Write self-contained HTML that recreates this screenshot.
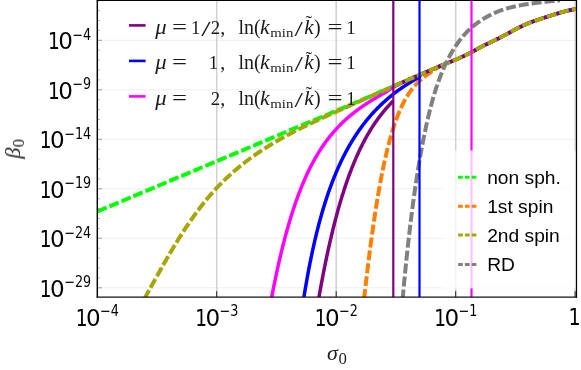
<!DOCTYPE html>
<html><head><meta charset="utf-8"><title>plot</title><style>html,body{margin:0;padding:0;background:#fff}svg{display:block}</style></head><body>
<svg width="581" height="370" viewBox="0 0 581 370">
<rect width="581" height="370" fill="#fff"/>
<g opacity="0.999">
<defs><clipPath id="c"><rect x="97.5" y="0.5" width="478.5" height="296.5"/></clipPath></defs>
<line x1="97.5" x2="576.0" y1="40.30" y2="40.30" stroke="#efefef" stroke-width="1"/>
<line x1="97.5" x2="576.0" y1="89.80" y2="89.80" stroke="#efefef" stroke-width="1"/>
<line x1="97.5" x2="576.0" y1="139.30" y2="139.30" stroke="#efefef" stroke-width="1"/>
<line x1="97.5" x2="576.0" y1="188.80" y2="188.80" stroke="#efefef" stroke-width="1"/>
<line x1="97.5" x2="576.0" y1="238.30" y2="238.30" stroke="#efefef" stroke-width="1"/>
<line x1="97.5" x2="576.0" y1="287.80" y2="287.80" stroke="#efefef" stroke-width="1"/>
<line x1="216.70" x2="216.70" y1="0.5" y2="297.0" stroke="#d0d0d0" stroke-width="1.5"/>
<line x1="336.20" x2="336.20" y1="0.5" y2="297.0" stroke="#d0d0d0" stroke-width="1.5"/>
<line x1="455.70" x2="455.70" y1="0.5" y2="297.0" stroke="#d0d0d0" stroke-width="1.5"/>
<line x1="575.20" x2="575.20" y1="0.5" y2="297.0" stroke="#d0d0d0" stroke-width="1.5"/>
<g clip-path="url(#c)" fill="none" stroke-linejoin="round">
<path d="M97.50 211.50 L99.91 210.48 L102.31 209.46 L104.72 208.44 L107.13 207.42 L109.53 206.40 L111.94 205.38 L114.35 204.36 L116.75 203.34 L119.16 202.32 L121.57 201.30 L123.97 200.28 L126.38 199.27 L128.79 198.25 L131.19 197.23 L133.60 196.21 L136.01 195.19 L138.42 194.18 L140.82 193.16 L143.23 192.14 L145.64 191.12 L148.05 190.11 L150.46 189.09 L152.86 188.07 L155.27 187.06 L157.68 186.04 L160.09 185.02 L162.50 184.01 L164.90 182.99 L167.31 181.97 L169.72 180.96 L172.13 179.94 L174.54 178.93 L176.95 177.91 L179.35 176.90 L181.76 175.88 L184.17 174.87 L186.58 173.85 L188.99 172.84 L191.40 171.82 L193.81 170.81 L196.22 169.79 L198.62 168.78 L201.03 167.77 L203.44 166.75 L205.85 165.74 L208.26 164.73 L210.67 163.71 L213.08 162.70 L215.49 161.69 L217.90 160.68 L220.31 159.67 L222.72 158.66 L225.13 157.65 L227.54 156.64 L229.95 155.62 L232.36 154.61 L234.77 153.60 L237.18 152.59 L239.59 151.57 L242.00 150.56 L244.41 149.54 L246.82 148.53 L249.22 147.51 L251.63 146.49 L254.04 145.48 L256.45 144.46 L258.85 143.44 L261.26 142.42 L263.67 141.40 L266.08 140.39 L268.48 139.37 L270.89 138.35 L273.30 137.33 L275.71 136.31 L278.11 135.30 L280.52 134.28 L282.93 133.26 L285.34 132.25 L287.75 131.23 L290.15 130.21 L292.56 129.20 L294.97 128.18 L297.38 127.17 L299.79 126.16 L302.20 125.14 L304.61 124.13 L307.02 123.11 L309.42 122.10 L311.83 121.08 L314.24 120.07 L316.65 119.06 L319.06 118.04 L321.47 117.03 L323.88 116.01 L326.29 114.99 L328.69 113.98 L331.10 112.96 L333.51 111.95 L335.92 110.93 L338.32 109.91 L340.73 108.89 L343.14 107.87 L345.54 106.85 L347.95 105.83 L350.36 104.81 L352.76 103.78 L355.17 102.76 L357.57 101.74 L359.97 100.71 L362.38 99.68 L364.78 98.66 L367.18 97.63 L369.59 96.59 L371.99 95.56 L374.39 94.53 L376.79 93.49 L379.19 92.45 L381.58 91.41 L383.98 90.37 L386.37 89.32 L388.77 88.27 L391.16 87.22 L393.56 86.18 L395.95 85.13 L398.35 84.09 L400.74 83.04 L403.14 82.00 L405.54 80.95 L407.93 79.91 L410.33 78.87 L412.73 77.83 L415.13 76.79 L417.53 75.75 L419.93 74.72" stroke="#00ff00" stroke-width="4" stroke-dasharray="10 3"/>
<path d="M364.09 299.03 L364.16 298.39 L364.23 297.75 L364.30 297.11 L364.37 296.47 L364.45 295.83 L364.52 295.20 L364.59 294.56 L364.66 293.92 L364.73 293.28 L364.81 292.64 L364.88 292.00 L364.95 291.36 L365.02 290.73 L365.10 290.09 L365.17 289.45 L365.24 288.81 L365.31 288.17 L365.39 287.53 L365.46 286.90 L365.53 286.26 L365.61 285.62 L365.68 284.98 L365.75 284.34 L365.83 283.70 L365.90 283.07 L365.98 282.43 L366.05 281.79 L366.13 281.15 L366.20 280.51 L366.28 279.87 L366.35 279.24 L366.43 278.60 L366.50 277.96 L366.58 277.32 L366.65 276.68 L366.73 276.04 L366.80 275.41 L366.88 274.77 L366.96 274.13 L367.03 273.49 L367.11 272.85 L367.19 272.22 L367.26 271.58 L367.34 270.94 L367.42 270.30 L367.49 269.66 L367.57 269.03 L367.65 268.39 L367.73 267.75 L367.80 267.11 L367.88 266.48 L367.96 265.84 L368.04 265.20 L368.12 264.56 L368.20 263.92 L368.28 263.29 L368.35 262.65 L368.43 262.01 L368.51 261.37 L368.59 260.74 L368.67 260.10 L368.75 259.46 L368.83 258.82 L368.91 258.19 L368.99 257.55 L369.08 256.91 L369.16 256.27 L369.24 255.64 L369.32 255.00 L369.40 254.36 L369.48 253.72 L369.56 253.09 L369.65 252.45 L369.73 251.81 L369.81 251.17 L369.89 250.54 L369.98 249.90 L370.06 249.26 L370.14 248.63 L370.23 247.99 L370.31 247.35 L370.39 246.71 L370.48 246.08 L370.56 245.44 L370.65 244.80 L370.73 244.17 L370.82 243.53 L370.90 242.89 L370.99 242.26 L371.07 241.62 L371.16 240.98 L371.25 240.34 L371.33 239.71 L371.42 239.07 L371.51 238.43 L371.59 237.80 L371.68 237.16 L371.77 236.52 L371.85 235.89 L371.94 235.25 L372.03 234.61 L372.12 233.98 L372.21 233.34 L372.30 232.71 L372.39 232.07 L372.48 231.43 L372.57 230.80 L372.66 230.16 L372.75 229.52 L372.84 228.89 L372.93 228.25 L373.02 227.62 L373.11 226.98 L373.20 226.34 L373.29 225.71 L373.38 225.07 L373.48 224.44 L373.57 223.80 L373.66 223.16 L373.76 222.53 L373.85 221.89 L373.94 221.26 L374.04 220.62 L374.13 219.99 L374.23 219.35 L374.32 218.71 L374.42 218.08 L374.51 217.44 L374.61 216.81 L374.70 216.17 L374.80 215.54 L374.90 214.90 L374.99 214.27 L375.09 213.63 L375.19 213.00 L375.29 212.36 L375.38 211.73 L375.48 211.09 L375.58 210.46 L375.68 209.82 L375.78 209.19 L375.88 208.55 L375.98 207.92 L376.08 207.28 L376.18 206.65 L376.28 206.01 L376.38 205.38 L376.49 204.74 L376.59 204.11 L376.69 203.48 L376.80 202.84 L376.90 202.21 L377.00 201.57 L377.11 200.94 L377.21 200.30 L377.32 199.67 L377.42 199.04 L377.53 198.40 L377.63 197.77 L377.74 197.14 L377.85 196.50 L377.95 195.87 L378.06 195.23 L378.17 194.60 L378.28 193.97 L378.39 193.33 L378.50 192.70 L378.61 192.07 L378.72 191.44 L378.83 190.80 L378.94 190.17 L379.05 189.54 L379.16 188.90 L379.27 188.27 L379.39 187.64 L379.50 187.01 L379.62 186.37 L379.73 185.74 L379.84 185.11 L379.96 184.48 L380.08 183.84 L380.19 183.21 L380.31 182.58 L380.43 181.95 L380.54 181.32 L380.66 180.69 L380.78 180.05 L380.90 179.42 L381.02 178.79 L381.14 178.16 L381.26 177.53 L381.38 176.90 L381.50 176.27 L381.63 175.64 L381.75 175.01 L381.87 174.38 L382.00 173.74 L382.12 173.11 L382.25 172.48 L382.38 171.85 L382.50 171.22 L382.63 170.59 L382.76 169.96 L382.89 169.33 L383.02 168.71 L383.14 168.08 L383.28 167.45 L383.41 166.82 L383.54 166.19 L383.67 165.56 L383.80 164.93 L383.94 164.30 L384.07 163.67 L384.21 163.05 L384.34 162.42 L384.48 161.79 L384.62 161.16 L384.76 160.53 L384.89 159.91 L385.03 159.28 L385.17 158.65 L385.32 158.03 L385.46 157.40 L385.60 156.77 L385.74 156.15 L385.89 155.52 L386.03 154.89 L386.18 154.27 L386.33 153.64 L386.47 153.02 L386.62 152.39 L386.77 151.77 L386.92 151.14 L387.07 150.52 L387.23 149.89 L387.38 149.27 L387.53 148.65 L387.69 148.02 L387.85 147.40 L388.00 146.78 L388.16 146.15 L388.32 145.53 L388.48 144.91 L388.64 144.29 L388.80 143.66 L388.97 143.04 L389.13 142.42 L389.30 141.80 L389.46 141.18 L389.63 140.56 L389.80 139.94 L389.97 139.32 L390.14 138.70 L390.31 138.08 L390.49 137.46 L390.66 136.85 L390.84 136.23 L391.02 135.61 L391.19 134.99 L391.37 134.38 L391.56 133.76 L391.74 133.14 L391.92 132.53 L392.11 131.91 L392.30 131.30 L392.48 130.68 L392.68 130.07 L392.87 129.46 L393.06 128.84 L393.25 128.23 L393.45 127.62 L393.65 127.01 L393.85 126.40 L394.05 125.79 L394.25 125.18 L394.46 124.57 L394.66 123.96 L394.87 123.35 L395.08 122.74 L395.29 122.14 L395.51 121.53 L395.72 120.93 L395.94 120.32 L396.16 119.72 L396.38 119.11 L396.60 118.51 L396.83 117.91 L397.06 117.31 L397.29 116.71 L397.52 116.11 L397.75 115.51 L397.99 114.91 L398.23 114.32 L398.47 113.72 L398.71 113.13 L398.96 112.53 L399.21 111.94 L399.46 111.35 L399.71 110.76 L399.97 110.17 L400.22 109.58 L400.49 108.99 L400.75 108.41 L401.02 107.82 L401.29 107.24 L401.56 106.66 L401.83 106.08 L402.11 105.50 L402.39 104.92 L402.68 104.34 L402.96 103.77 L403.26 103.19 L403.55 102.62 L403.85 102.05 L404.15 101.49 L404.45 100.92 L404.76 100.36 L405.07 99.79 L405.38 99.23 L405.70 98.67 L406.02 98.12 L406.35 97.56 L406.68 97.01 L407.01 96.46 L407.35 95.92 L407.69 95.37 L408.03 94.83 L408.38 94.29 L408.74 93.75 L409.09 93.22 L409.46 92.69 L409.82 92.16 L410.19 91.63 L410.56 91.11 L410.94 90.59 L411.33 90.07 L411.71 89.56 L412.10 89.05 L412.50 88.55 L412.90 88.04 L413.31 87.54 L413.72 87.05 L414.13 86.56 L414.55 86.07 L414.97 85.59 L415.40 85.11 L415.83 84.63 L416.27 84.16 L416.71 83.69 L417.15 83.23 L417.60 82.77 L418.06 82.31 L418.51 81.86 L418.98 81.42 L419.44 80.98 L419.92 80.54 L420.39 80.11 L420.87 79.68 L421.35 79.26 L421.84 78.84 L422.33 78.42 L422.83 78.01 L423.32 77.61 L423.83 77.20 L424.33 76.81 L424.84 76.42 L425.35 76.03 L425.87 75.64 L426.39 75.26 L426.91 74.89 L427.43 74.52 L427.96 74.15 L428.49 73.79 L429.02 73.43 L429.56 73.07 L430.10 72.72 L430.64 72.38 L431.18 72.03 L431.73 71.69 L432.27 71.31 L432.82 70.88 L433.38 70.47 L433.93 70.07 L434.48 69.69 L435.04 69.31 L435.60 68.94 L436.16 68.58 L436.72 68.23 L437.29 67.89 L437.85 67.56 L438.42 67.23 L438.99 66.91 L439.56 66.60 L440.13 66.29 L440.70 65.99 L441.27 65.70 L441.85 65.41 L442.42 65.12 L443.00 64.84" stroke="#ff8000" stroke-width="4" stroke-dasharray="10 3"/>
<path d="M271.30 299.39 L271.42 298.73 L271.55 298.07 L271.67 297.41 L271.80 296.75 L271.92 296.09 L272.05 295.43 L272.18 294.77 L272.30 294.11 L272.43 293.45 L272.56 292.79 L272.69 292.13 L272.81 291.47 L272.94 290.81 L273.07 290.15 L273.20 289.49 L273.33 288.83 L273.46 288.17 L273.59 287.51 L273.72 286.85 L273.85 286.19 L273.99 285.53 L274.12 284.87 L274.25 284.22 L274.39 283.56 L274.52 282.90 L274.65 282.24 L274.79 281.58 L274.92 280.92 L275.06 280.27 L275.19 279.61 L275.33 278.95 L275.47 278.29 L275.60 277.63 L275.74 276.98 L275.88 276.32 L276.02 275.66 L276.16 275.00 L276.30 274.35 L276.44 273.69 L276.58 273.03 L276.72 272.37 L276.86 271.72 L277.00 271.06 L277.15 270.40 L277.29 269.75 L277.43 269.09 L277.58 268.43 L277.72 267.78 L277.87 267.12 L278.01 266.47 L278.16 265.81 L278.30 265.15 L278.45 264.50 L278.60 263.84 L278.75 263.19 L278.89 262.53 L279.04 261.88 L279.19 261.22 L279.34 260.57 L279.49 259.91 L279.65 259.26 L279.80 258.60 L279.95 257.95 L280.10 257.29 L280.26 256.64 L280.41 255.99 L280.57 255.33 L280.72 254.68 L280.88 254.02 L281.03 253.37 L281.19 252.72 L281.35 252.06 L281.51 251.41 L281.67 250.76 L281.83 250.10 L281.99 249.45 L282.15 248.80 L282.31 248.15 L282.47 247.50 L282.63 246.84 L282.80 246.19 L282.96 245.54 L283.12 244.89 L283.29 244.24 L283.46 243.59 L283.62 242.93 L283.79 242.28 L283.96 241.63 L284.13 240.98 L284.29 240.33 L284.46 239.68 L284.64 239.03 L284.81 238.38 L284.98 237.73 L285.15 237.08 L285.32 236.43 L285.50 235.78 L285.67 235.14 L285.85 234.49 L286.03 233.84 L286.20 233.19 L286.38 232.54 L286.56 231.89 L286.74 231.25 L286.92 230.60 L287.10 229.95 L287.28 229.31 L287.46 228.66 L287.65 228.01 L287.83 227.37 L288.02 226.72 L288.20 226.07 L288.39 225.43 L288.58 224.78 L288.76 224.14 L288.95 223.49 L289.14 222.85 L289.33 222.20 L289.53 221.56 L289.72 220.92 L289.91 220.27 L290.11 219.63 L290.30 218.99 L290.50 218.34 L290.69 217.70 L290.89 217.06 L291.09 216.42 L291.29 215.78 L291.49 215.13 L291.69 214.49 L291.89 213.85 L292.10 213.21 L292.30 212.57 L292.51 211.93 L292.71 211.29 L292.92 210.65 L293.13 210.01 L293.34 209.38 L293.55 208.74 L293.76 208.10 L293.97 207.46 L294.19 206.82 L294.40 206.19 L294.62 205.55 L294.83 204.91 L295.05 204.28 L295.27 203.64 L295.49 203.01 L295.71 202.37 L295.93 201.74 L296.15 201.11 L296.38 200.47 L296.60 199.84 L296.83 199.21 L297.06 198.57 L297.29 197.94 L297.52 197.31 L297.75 196.68 L297.98 196.05 L298.22 195.42 L298.45 194.79 L298.69 194.16 L298.92 193.53 L299.16 192.90 L299.40 192.28 L299.65 191.65 L299.89 191.02 L300.13 190.40 L300.38 189.77 L300.62 189.15 L300.87 188.52 L301.12 187.90 L301.37 187.27 L301.62 186.65 L301.88 186.03 L302.13 185.41 L302.39 184.79 L302.65 184.17 L302.90 183.54 L303.16 182.93 L303.43 182.31 L303.69 181.69 L303.96 181.07 L304.22 180.45 L304.49 179.84 L304.76 179.22 L305.03 178.61 L305.30 177.99 L305.58 177.38 L305.85 176.77 L306.13 176.15 L306.41 175.54 L306.69 174.93 L306.97 174.32 L307.25 173.71 L307.54 173.10 L307.83 172.50 L308.12 171.89 L308.41 171.28 L308.70 170.68 L308.99 170.08 L309.29 169.47 L309.59 168.87 L309.88 168.27 L310.19 167.67 L310.49 167.07 L310.79 166.47 L311.10 165.87 L311.41 165.27 L311.72 164.68 L312.03 164.08 L312.34 163.49 L312.66 162.89 L312.98 162.30 L313.30 161.71 L313.62 161.12 L313.94 160.53 L314.27 159.94 L314.60 159.36 L314.92 158.77 L315.26 158.19 L315.59 157.60 L315.92 157.02 L316.26 156.44 L316.60 155.86 L316.94 155.28 L317.29 154.70 L317.63 154.13 L317.98 153.55 L318.33 152.98 L318.68 152.41 L319.04 151.84 L319.40 151.27 L319.75 150.70 L320.11 150.13 L320.48 149.57 L320.84 149.00 L321.21 148.44 L321.58 147.88 L321.95 147.32 L322.33 146.76 L322.70 146.20 L323.08 145.65 L323.46 145.10 L323.85 144.54 L324.23 143.99 L324.62 143.44 L325.01 142.90 L325.40 142.35 L325.80 141.81 L326.20 141.27 L326.60 140.73 L327.00 140.19 L327.40 139.65 L327.81 139.12 L328.22 138.58 L328.63 138.05 L329.04 137.52 L329.46 136.99 L329.88 136.47 L330.30 135.94 L330.72 135.42 L331.15 134.90 L331.57 134.38 L332.01 133.87 L332.44 133.35 L332.87 132.84 L333.31 132.33 L333.75 131.82 L334.19 131.32 L334.64 130.81 L335.08 130.31 L335.53 129.81 L335.98 129.31 L336.44 128.82 L336.89 128.33 L337.35 127.83 L337.81 127.34 L338.28 126.86 L338.74 126.37 L339.21 125.89 L339.68 125.41 L340.15 124.93 L340.63 124.46 L341.10 123.98 L341.58 123.51 L342.06 123.04 L342.55 122.57 L343.03 122.11 L343.52 121.65 L344.01 121.19 L344.50 120.73 L344.99 120.27 L345.49 119.82 L345.99 119.37 L346.49 118.92 L346.99 118.47 L347.49 118.03 L348.00 117.59 L348.51 117.15 L349.02 116.71 L349.53 116.27 L350.04 115.84 L350.56 115.41 L351.08 114.98 L351.60 114.56 L352.12 114.13 L352.64 113.71 L353.17 113.29 L353.69 112.87 L354.22 112.46 L354.75 112.05 L355.28 111.63 L355.82 111.23 L356.35 110.82 L356.89 110.42 L357.43 110.01 L357.97 109.61 L358.51 109.21 L359.05 108.82 L359.60 108.43 L360.14 108.03 L360.69 107.64 L361.24 107.26 L361.79 106.87 L362.34 106.49 L362.89 106.10 L363.45 105.72 L364.00 105.35 L364.56 104.97 L365.12 104.60 L365.68 104.22 L366.24 103.85 L366.80 103.48 L367.36 103.12 L367.93 102.75 L368.49 102.39 L369.06 102.03 L369.63 101.67 L370.20 101.31 L370.76 100.95 L371.34 100.60 L371.91 100.24 L372.48 99.89 L373.05 99.54 L373.63 99.19 L374.20 98.85 L374.78 98.50 L375.36 98.16 L375.93 97.81 L376.51 97.47 L377.09 97.13 L377.67 96.79 L378.25 96.45 L378.84 96.12 L379.42 95.78 L380.00 95.45 L380.59 95.12 L381.17 94.79 L381.76 94.46 L382.34 94.13 L382.93 93.80 L383.51 93.47 L384.10 93.14 L384.69 92.82 L385.28 92.46 L385.87 92.06 L386.46 91.66 L387.05 91.27 L387.64 90.89 L388.23 90.51 L388.82 90.13 L389.42 89.76 L390.01 89.39 L390.60 89.02 L391.20 88.66 L391.79 88.30 L392.39 87.95 L392.98 87.60 L393.58 87.25 L394.18 86.91 L394.78 86.57 L395.38 86.23 L395.97 85.90 L396.57 85.57 L397.17 85.24 L397.77 84.91 L398.37 84.59 L398.97 84.27 L399.57 83.95 L400.18 83.64 L400.78 83.32 L401.38 83.01 L401.98 82.70 L402.59 82.40 L403.19 82.09 L403.79 81.79 L404.40 81.49 L405.00 81.19 L406.44 80.56 L407.87 79.94 L409.31 79.31 L410.75 78.69 L412.18 78.06 L413.62 77.44 L415.06 76.82 L416.50 76.20 L417.93 75.58 L419.37 74.96 L420.81 74.34 L422.24 73.72 L423.68 73.10 L425.12 72.48 L426.55 71.86 L427.99 71.24 L429.43 70.62 L430.87 70.01 L432.30 69.39 L433.74 68.78 L435.18 68.16 L436.61 67.55 L438.05 66.94 L439.49 66.33 L440.92 65.72 L442.36 65.11 L443.80 64.50 L445.24 63.90 L446.67 63.31 L448.11 62.72 L449.55 62.14 L450.98 61.56 L452.42 60.99 L453.86 60.41 L455.29 59.82 L456.73 59.22 L458.17 58.61 L459.61 57.98 L461.04 57.33 L462.48 56.66 L463.92 55.98 L465.35 55.29 L466.79 54.58 L468.23 53.86 L469.66 53.14 L471.10 52.40 L472.54 51.66 L473.97 50.88 L475.41 50.09 L476.85 49.29 L478.29 48.49 L479.72 47.69 L481.16 46.91 L482.60 46.16 L484.03 45.43 L485.47 44.73 L486.91 44.05 L488.34 43.38 L489.78 42.71 L491.22 42.03 L492.66 41.35 L494.09 40.65 L495.53 39.94 L496.97 39.21 L498.40 38.47 L499.84 37.73 L501.28 36.98 L502.71 36.23 L504.15 35.47 L505.59 34.71 L507.03 33.95 L508.46 33.16 L509.90 32.37 L511.34 31.57 L512.77 30.78 L514.21 30.00 L515.65 29.24 L517.08 28.51 L518.52 27.80 L519.96 27.09 L521.39 26.39 L522.83 25.71 L524.27 25.05 L525.71 24.40 L527.14 23.78 L528.58 23.19 L530.02 22.62 L531.45 22.08 L532.89 21.56 L534.33 21.05 L535.76 20.56 L537.20 20.07 L538.64 19.59 L540.08 19.11 L541.51 18.63 L542.95 18.15 L544.39 17.67 L545.82 17.19 L547.26 16.73 L548.70 16.26 L550.13 15.80 L551.57 15.35 L553.01 14.90 L554.45 14.46 L555.88 14.00 L557.32 13.55 L558.76 13.11 L560.19 12.68 L561.63 12.26 L563.07 11.85 L564.50 11.47 L565.94 11.12 L567.38 10.78 L568.82 10.45 L570.25 10.13 L571.69 9.82 L573.13 9.53 L574.56 9.26 L576.00 9.00" stroke="#ff00ff" stroke-width="3.5"/>
<path d="M303.57 299.32 L303.68 298.67 L303.78 298.03 L303.88 297.38 L303.99 296.73 L304.09 296.09 L304.19 295.44 L304.30 294.80 L304.40 294.16 L304.51 293.51 L304.62 292.87 L304.72 292.22 L304.83 291.58 L304.94 290.93 L305.04 290.29 L305.15 289.64 L305.26 289.00 L305.37 288.35 L305.48 287.71 L305.59 287.07 L305.70 286.42 L305.81 285.78 L305.92 285.13 L306.03 284.49 L306.14 283.85 L306.25 283.20 L306.37 282.56 L306.48 281.92 L306.59 281.27 L306.71 280.63 L306.82 279.99 L306.94 279.34 L307.05 278.70 L307.17 278.06 L307.28 277.41 L307.40 276.77 L307.52 276.13 L307.63 275.49 L307.75 274.84 L307.87 274.20 L307.99 273.56 L308.11 272.92 L308.23 272.27 L308.35 271.63 L308.47 270.99 L308.59 270.35 L308.71 269.71 L308.84 269.06 L308.96 268.42 L309.08 267.78 L309.20 267.14 L309.33 266.50 L309.45 265.86 L309.58 265.22 L309.70 264.57 L309.83 263.93 L309.96 263.29 L310.09 262.65 L310.21 262.01 L310.34 261.37 L310.47 260.73 L310.60 260.09 L310.73 259.45 L310.86 258.81 L310.99 258.17 L311.12 257.53 L311.26 256.89 L311.39 256.25 L311.52 255.61 L311.66 254.97 L311.79 254.33 L311.92 253.69 L312.06 253.05 L312.20 252.41 L312.33 251.77 L312.47 251.14 L312.61 250.50 L312.75 249.86 L312.89 249.22 L313.03 248.58 L313.17 247.94 L313.31 247.31 L313.45 246.67 L313.59 246.03 L313.73 245.39 L313.88 244.76 L314.02 244.12 L314.17 243.48 L314.31 242.84 L314.46 242.21 L314.60 241.57 L314.75 240.93 L314.90 240.30 L315.05 239.66 L315.20 239.03 L315.35 238.39 L315.50 237.75 L315.65 237.12 L315.80 236.48 L315.95 235.85 L316.11 235.21 L316.26 234.58 L316.41 233.94 L316.57 233.31 L316.73 232.67 L316.88 232.04 L317.04 231.41 L317.20 230.77 L317.36 230.14 L317.52 229.50 L317.68 228.87 L317.84 228.24 L318.00 227.61 L318.16 226.97 L318.33 226.34 L318.49 225.71 L318.66 225.08 L318.82 224.44 L318.99 223.81 L319.16 223.18 L319.33 222.55 L319.49 221.92 L319.66 221.29 L319.84 220.66 L320.01 220.03 L320.18 219.40 L320.35 218.77 L320.53 218.14 L320.70 217.51 L320.88 216.88 L321.05 216.25 L321.23 215.62 L321.41 214.99 L321.59 214.36 L321.77 213.73 L321.95 213.11 L322.13 212.48 L322.31 211.85 L322.50 211.22 L322.68 210.60 L322.87 209.97 L323.05 209.35 L323.24 208.72 L323.43 208.09 L323.62 207.47 L323.81 206.84 L324.00 206.22 L324.19 205.59 L324.38 204.97 L324.58 204.35 L324.77 203.72 L324.97 203.10 L325.16 202.48 L325.36 201.85 L325.56 201.23 L325.76 200.61 L325.96 199.99 L326.16 199.37 L326.36 198.74 L326.57 198.12 L326.77 197.50 L326.98 196.88 L327.19 196.26 L327.39 195.64 L327.60 195.02 L327.81 194.41 L328.02 193.79 L328.24 193.17 L328.45 192.55 L328.66 191.94 L328.88 191.32 L329.10 190.70 L329.31 190.09 L329.53 189.47 L329.75 188.86 L329.97 188.24 L330.20 187.63 L330.42 187.01 L330.65 186.40 L330.87 185.79 L331.10 185.17 L331.33 184.56 L331.56 183.95 L331.79 183.34 L332.02 182.73 L332.25 182.12 L332.49 181.51 L332.72 180.90 L332.96 180.29 L333.20 179.68 L333.44 179.07 L333.68 178.47 L333.92 177.86 L334.16 177.25 L334.41 176.65 L334.65 176.04 L334.90 175.44 L335.15 174.83 L335.40 174.23 L335.65 173.63 L335.90 173.02 L336.16 172.42 L336.41 171.82 L336.67 171.22 L336.93 170.62 L337.19 170.02 L337.45 169.42 L337.71 168.82 L337.97 168.22 L338.24 167.63 L338.51 167.03 L338.77 166.44 L339.04 165.84 L339.31 165.25 L339.59 164.65 L339.86 164.06 L340.14 163.47 L340.41 162.87 L340.69 162.28 L340.97 161.69 L341.25 161.10 L341.53 160.51 L341.82 159.93 L342.10 159.34 L342.39 158.75 L342.68 158.17 L342.97 157.58 L343.26 157.00 L343.56 156.41 L343.85 155.83 L344.15 155.25 L344.45 154.67 L344.75 154.09 L345.05 153.51 L345.35 152.93 L345.66 152.35 L345.96 151.77 L346.27 151.20 L346.58 150.62 L346.89 150.05 L347.21 149.47 L347.52 148.90 L347.84 148.33 L348.16 147.76 L348.48 147.19 L348.80 146.62 L349.12 146.05 L349.45 145.49 L349.77 144.92 L350.10 144.36 L350.43 143.79 L350.76 143.23 L351.10 142.67 L351.43 142.11 L351.77 141.55 L352.11 140.99 L352.45 140.43 L352.79 139.87 L353.14 139.32 L353.48 138.77 L353.83 138.21 L354.18 137.66 L354.53 137.11 L354.88 136.56 L355.24 136.01 L355.60 135.47 L355.96 134.92 L356.32 134.37 L356.68 133.83 L357.04 133.29 L357.41 132.75 L357.78 132.21 L358.15 131.67 L358.52 131.13 L358.89 130.60 L359.27 130.06 L359.65 129.53 L360.03 129.00 L360.41 128.47 L360.79 127.94 L361.17 127.41 L361.56 126.88 L361.95 126.36 L362.34 125.83 L362.73 125.31 L363.13 124.79 L363.52 124.27 L363.92 123.75 L364.32 123.24 L364.73 122.72 L365.13 122.21 L365.54 121.70 L365.94 121.19 L366.35 120.68 L366.77 120.17 L367.18 119.66 L367.59 119.16 L368.01 118.66 L368.43 118.16 L368.85 117.66 L369.28 117.16 L369.70 116.66 L370.13 116.17 L370.56 115.68 L370.99 115.19 L371.42 114.70 L371.85 114.21 L372.29 113.72 L372.73 113.24 L373.17 112.75 L373.61 112.27 L374.06 111.79 L374.50 111.32 L374.95 110.84 L375.40 110.37 L375.85 109.89 L376.30 109.42 L376.76 108.96 L377.22 108.49 L377.67 108.02 L378.14 107.56 L378.60 107.10 L379.06 106.64 L379.53 106.18 L380.00 105.73 L380.47 105.27 L380.94 104.82 L381.41 104.37 L381.89 103.92 L382.36 103.47 L382.84 103.03 L383.32 102.58 L383.80 102.14 L384.29 101.70 L384.77 101.27 L385.26 100.83 L385.75 100.40 L386.24 99.96 L386.73 99.53 L387.22 99.11 L387.72 98.68 L388.21 98.26 L388.71 97.83 L389.21 97.41 L389.71 97.00 L390.22 96.58 L390.72 96.17 L391.23 95.75 L391.74 95.34 L392.25 94.94 L392.76 94.53 L393.28 94.13 L393.79 93.72 L394.31 93.32 L394.83 92.93 L395.35 92.53 L395.87 92.14 L396.39 91.75 L396.91 91.36 L397.44 90.97 L397.97 90.58 L398.50 90.20 L399.03 89.82 L399.56 89.44 L400.09 89.06 L400.63 88.68 L401.16 88.31 L401.70 87.94 L402.24 87.57 L402.78 87.20 L403.32 86.83 L403.86 86.47 L404.40 86.11 L404.95 85.74 L405.49 85.39 L406.04 85.03 L406.59 84.67 L407.14 84.32 L407.69 83.97 L408.24 83.62 L408.79 83.27 L409.35 82.93 L409.90 82.58 L410.46 82.24 L411.02 81.90 L411.58 81.56 L412.14 81.22 L412.70 80.89 L413.26 80.55 L413.82 80.22 L414.38 79.89 L414.95 79.56 L415.52 79.24 L416.08 78.91 L416.65 78.59 L417.22 78.26 L417.79 77.94 L418.36 77.62 L418.93 77.31 L419.50 76.99 L420.82 74.33 L422.13 73.77 L423.45 73.20 L424.76 72.63 L426.08 72.07 L427.39 71.50 L428.71 70.94 L430.02 70.37 L431.34 69.81 L432.65 69.24 L433.97 68.68 L435.28 68.12 L436.60 67.56 L437.91 67.00 L439.23 66.44 L440.54 65.88 L441.86 65.32 L443.17 64.77 L444.49 64.22 L445.80 63.67 L447.12 63.12 L448.43 62.59 L449.75 62.06 L451.06 61.53 L452.38 61.00 L453.69 60.47 L455.01 59.93 L456.32 59.39 L457.64 58.83 L458.95 58.26 L460.27 57.68 L461.58 57.08 L462.90 56.46 L464.21 55.84 L465.53 55.20 L466.84 54.55 L468.16 53.90 L469.47 53.23 L470.79 52.56 L472.11 51.89 L473.42 51.19 L474.74 50.47 L476.05 49.74 L477.37 49.00 L478.68 48.27 L480.00 47.54 L481.31 46.83 L482.63 46.14 L483.94 45.48 L485.26 44.83 L486.57 44.21 L487.89 43.59 L489.20 42.98 L490.52 42.36 L491.83 41.74 L493.15 41.11 L494.46 40.47 L495.78 39.81 L497.09 39.14 L498.41 38.47 L499.72 37.79 L501.04 37.11 L502.35 36.42 L503.67 35.72 L504.98 35.03 L506.30 34.34 L507.61 33.63 L508.93 32.91 L510.24 32.18 L511.56 31.45 L512.87 30.73 L514.19 30.01 L515.50 29.32 L516.82 28.64 L518.13 27.99 L519.45 27.34 L520.76 26.70 L522.08 26.07 L523.39 25.45 L524.71 24.85 L526.03 24.26 L527.34 23.70 L528.66 23.16 L529.97 22.64 L531.29 22.14 L532.60 21.66 L533.92 21.20 L535.23 20.74 L536.55 20.29 L537.86 19.85 L539.18 19.41 L540.49 18.97 L541.81 18.53 L543.12 18.09 L544.44 17.65 L545.75 17.22 L547.07 16.79 L548.38 16.36 L549.70 15.94 L551.01 15.53 L552.33 15.12 L553.64 14.71 L554.96 14.29 L556.27 13.88 L557.59 13.47 L558.90 13.07 L560.22 12.67 L561.53 12.28 L562.85 11.91 L564.16 11.56 L565.48 11.23 L566.79 10.91 L568.11 10.61 L569.42 10.31 L570.74 10.02 L572.05 9.75 L573.37 9.49 L574.68 9.24 L576.00 9.00" stroke="#0000ff" stroke-width="3.5"/>
<path d="M318.56 299.39 L318.66 298.86 L318.75 298.32 L318.84 297.79 L318.93 297.26 L319.03 296.73 L319.12 296.20 L319.22 295.67 L319.31 295.14 L319.40 294.61 L319.50 294.08 L319.59 293.54 L319.69 293.01 L319.78 292.48 L319.88 291.95 L319.97 291.42 L320.07 290.89 L320.16 290.36 L320.26 289.83 L320.36 289.30 L320.45 288.77 L320.55 288.24 L320.65 287.71 L320.74 287.18 L320.84 286.64 L320.94 286.11 L321.04 285.58 L321.14 285.05 L321.23 284.52 L321.33 283.99 L321.43 283.46 L321.53 282.93 L321.63 282.40 L321.73 281.87 L321.83 281.34 L321.93 280.81 L322.03 280.28 L322.13 279.75 L322.23 279.22 L322.33 278.69 L322.43 278.16 L322.53 277.63 L322.63 277.10 L322.73 276.57 L322.84 276.04 L322.94 275.51 L323.04 274.98 L323.14 274.45 L323.25 273.93 L323.35 273.40 L323.45 272.87 L323.56 272.34 L323.66 271.81 L323.76 271.28 L323.87 270.75 L323.97 270.22 L324.08 269.69 L324.18 269.16 L324.29 268.63 L324.39 268.10 L324.50 267.58 L324.61 267.05 L324.71 266.52 L324.82 265.99 L324.93 265.46 L325.03 264.93 L325.14 264.40 L325.25 263.87 L325.36 263.35 L325.47 262.82 L325.57 262.29 L325.68 261.76 L325.79 261.23 L325.90 260.71 L326.01 260.18 L326.12 259.65 L326.23 259.12 L326.34 258.59 L326.45 258.07 L326.56 257.54 L326.67 257.01 L326.79 256.48 L326.90 255.95 L327.01 255.43 L327.12 254.90 L327.24 254.37 L327.35 253.84 L327.46 253.32 L327.58 252.79 L327.69 252.26 L327.80 251.74 L327.92 251.21 L328.03 250.68 L328.15 250.15 L328.26 249.63 L328.38 249.10 L328.50 248.57 L328.61 248.05 L328.73 247.52 L328.85 246.99 L328.96 246.47 L329.08 245.94 L329.20 245.42 L329.32 244.89 L329.44 244.36 L329.56 243.84 L329.68 243.31 L329.80 242.79 L329.92 242.26 L330.04 241.73 L330.16 241.21 L330.28 240.68 L330.40 240.16 L330.52 239.63 L330.64 239.11 L330.76 238.58 L330.89 238.06 L331.01 237.53 L331.13 237.01 L331.26 236.48 L331.38 235.96 L331.51 235.43 L331.63 234.91 L331.76 234.38 L331.88 233.86 L332.01 233.33 L332.13 232.81 L332.26 232.28 L332.39 231.76 L332.52 231.24 L332.64 230.71 L332.77 230.19 L332.90 229.66 L333.03 229.14 L333.16 228.62 L333.29 228.09 L333.42 227.57 L333.55 227.05 L333.68 226.52 L333.81 226.00 L333.94 225.48 L334.07 224.95 L334.21 224.43 L334.34 223.91 L334.47 223.39 L334.61 222.86 L334.74 222.34 L334.88 221.82 L335.01 221.30 L335.15 220.77 L335.28 220.25 L335.42 219.73 L335.55 219.21 L335.69 218.69 L335.83 218.16 L335.97 217.64 L336.11 217.12 L336.24 216.60 L336.38 216.08 L336.52 215.56 L336.66 215.04 L336.80 214.52 L336.94 214.00 L337.09 213.48 L337.23 212.96 L337.37 212.44 L337.51 211.92 L337.66 211.40 L337.80 210.88 L337.95 210.36 L338.09 209.84 L338.24 209.32 L338.38 208.80 L338.53 208.28 L338.67 207.76 L338.82 207.24 L338.97 206.72 L339.12 206.20 L339.27 205.68 L339.42 205.17 L339.57 204.65 L339.72 204.13 L339.87 203.61 L340.02 203.09 L340.17 202.58 L340.32 202.06 L340.47 201.54 L340.63 201.03 L340.78 200.51 L340.94 199.99 L341.09 199.48 L341.25 198.96 L341.40 198.44 L341.56 197.93 L341.72 197.41 L341.88 196.89 L342.03 196.38 L342.19 195.86 L342.35 195.35 L342.51 194.83 L342.67 194.32 L342.83 193.80 L343.00 193.29 L343.16 192.77 L343.32 192.26 L343.49 191.75 L343.65 191.23 L343.81 190.72 L343.98 190.21 L344.15 189.69 L344.31 189.18 L344.48 188.67 L344.65 188.15 L344.82 187.64 L344.99 187.13 L345.16 186.62 L345.33 186.11 L345.50 185.60 L345.67 185.08 L345.84 184.57 L346.01 184.06 L346.19 183.55 L346.36 183.04 L346.54 182.53 L346.71 182.02 L346.89 181.51 L347.07 181.00 L347.25 180.49 L347.42 179.98 L347.60 179.48 L347.78 178.97 L347.96 178.46 L348.15 177.95 L348.33 177.44 L348.51 176.94 L348.69 176.43 L348.88 175.92 L349.06 175.42 L349.25 174.91 L349.44 174.40 L349.62 173.90 L349.81 173.39 L350.00 172.89 L350.19 172.38 L350.38 171.88 L350.57 171.37 L350.77 170.87 L350.96 170.36 L351.15 169.86 L351.35 169.36 L351.54 168.86 L351.74 168.35 L351.93 167.85 L352.13 167.35 L352.33 166.85 L352.53 166.35 L352.73 165.85 L352.93 165.35 L353.13 164.85 L353.34 164.35 L353.54 163.85 L353.75 163.35 L353.95 162.85 L354.16 162.35 L354.37 161.85 L354.57 161.36 L354.78 160.86 L354.99 160.36 L355.20 159.86 L355.42 159.37 L355.63 158.87 L355.84 158.38 L356.06 157.88 L356.27 157.39 L356.49 156.90 L356.71 156.40 L356.93 155.91 L357.15 155.42 L357.37 154.92 L357.59 154.43 L357.81 153.94 L358.04 153.45 L358.26 152.96 L358.49 152.47 L358.71 151.98 L358.94 151.49 L359.17 151.00 L359.40 150.52 L359.63 150.03 L359.86 149.54 L360.10 149.05 L360.33 148.57 L360.56 148.08 L360.80 147.60 L361.04 147.11 L361.28 146.63 L361.52 146.15 L361.76 145.66 L362.00 145.18 L362.24 144.70 L362.49 144.22 L362.73 143.74 L362.98 143.26 L363.23 142.78 L363.48 142.30 L363.73 141.82 L363.98 141.35 L364.23 140.87 L364.48 140.39 L364.74 139.92 L364.99 139.44 L365.25 138.97 L365.51 138.50 L365.77 138.02 L366.03 137.55 L366.29 137.08 L366.56 136.61 L366.82 136.14 L367.09 135.67 L367.35 135.20 L367.62 134.74 L367.89 134.27 L368.16 133.80 L368.44 133.34 L368.71 132.87 L368.99 132.41 L369.26 131.94 L369.54 131.48 L369.82 131.02 L370.10 130.56 L370.38 130.10 L370.66 129.64 L370.95 129.18 L371.23 128.73 L371.52 128.27 L371.81 127.81 L372.10 127.36 L372.39 126.91 L372.68 126.45 L372.98 126.00 L373.27 125.55 L373.57 125.10 L373.87 124.65 L374.17 124.20 L374.47 123.75 L374.77 123.31 L375.08 122.86 L375.38 122.42 L375.69 121.97 L376.00 121.53 L376.31 121.09 L376.62 120.65 L376.93 120.21 L377.25 119.77 L377.56 119.33 L377.88 118.90 L378.20 118.46 L378.52 118.03 L378.84 117.60 L379.16 117.16 L379.49 116.73 L379.81 116.30 L380.14 115.88 L380.47 115.45 L380.80 115.02 L381.13 114.60 L381.47 114.17 L381.80 113.75 L382.14 113.33 L382.48 112.91 L382.82 112.49 L383.16 112.07 L383.50 111.65 L383.84 111.24 L384.19 110.82 L384.53 110.41 L384.88 110.00 L385.23 109.59 L385.58 109.18 L385.94 108.77 L386.29 108.36 L386.64 107.96 L387.00 107.55 L387.36 107.15 L387.72 106.75 L388.08 106.35 L388.45 105.95 L388.81 105.55 L389.18 105.16 L389.54 104.76 L389.91 104.37 L390.28 103.98 L390.65 103.59 L391.03 103.20 L391.40 102.81 L391.78 102.42 L392.16 102.04 L392.54 101.65 L392.92 101.27 L393.30 100.89" stroke="#800080" stroke-width="3.5"/>
<path d="M393.30 86.29 L394.84 85.62 L396.37 84.95 L397.91 84.28 L399.44 83.61 L400.98 82.94 L402.51 82.27 L404.05 81.60 L405.58 80.93 L407.12 80.27 L408.65 79.60 L410.19 78.93 L411.72 78.26 L413.26 77.60 L414.79 76.93 L416.33 76.27 L417.86 75.61 L419.40 74.94 L420.94 74.28 L422.47 73.62 L424.01 72.96 L425.54 72.30 L427.08 71.64 L428.61 70.98 L430.15 70.32 L431.68 69.66 L433.22 69.00 L434.75 68.34 L436.29 67.69 L437.82 67.03 L439.36 66.38 L440.89 65.73 L442.43 65.08 L443.96 64.43 L445.50 63.79 L447.04 63.16 L448.57 62.53 L450.11 61.92 L451.64 61.30 L453.18 60.68 L454.71 60.06 L456.25 59.42 L457.78 58.77 L459.32 58.10 L460.85 57.41 L462.39 56.70 L463.92 55.98 L465.46 55.24 L466.99 54.48 L468.53 53.71 L470.06 52.93 L471.60 52.15 L473.14 51.34 L474.67 50.50 L476.21 49.65 L477.74 48.79 L479.28 47.94 L480.81 47.10 L482.35 46.28 L483.88 45.51 L485.42 44.76 L486.95 44.03 L488.49 43.31 L490.02 42.59 L491.56 41.87 L493.09 41.14 L494.63 40.39 L496.16 39.61 L497.70 38.83 L499.24 38.04 L500.77 37.24 L502.31 36.44 L503.84 35.63 L505.38 34.82 L506.91 34.01 L508.45 33.17 L509.98 32.32 L511.52 31.47 L513.05 30.63 L514.59 29.80 L516.12 29.00 L517.66 28.22 L519.19 27.46 L520.73 26.71 L522.26 25.98 L523.80 25.26 L525.34 24.57 L526.87 23.90 L528.41 23.26 L529.94 22.65 L531.48 22.07 L533.01 21.52 L534.55 20.98 L536.08 20.45 L537.62 19.93 L539.15 19.42 L540.69 18.91 L542.22 18.39 L543.76 17.88 L545.29 17.37 L546.83 16.87 L548.36 16.37 L549.90 15.88 L551.44 15.39 L552.97 14.92 L554.51 14.44 L556.04 13.95 L557.58 13.47 L559.11 13.00 L560.65 12.54 L562.18 12.10 L563.72 11.68 L565.25 11.29 L566.79 10.92 L568.32 10.56 L569.86 10.21 L571.39 9.88 L572.93 9.57 L574.46 9.28 L576.00 9.00" stroke="#800080" stroke-width="3.5"/>
<path d="M144.23 299.08 L144.64 298.34 L145.05 297.60 L145.46 296.86 L145.88 296.12 L146.29 295.38 L146.70 294.64 L147.11 293.90 L147.52 293.16 L147.93 292.42 L148.34 291.68 L148.75 290.94 L149.16 290.20 L149.57 289.46 L149.98 288.72 L150.39 287.98 L150.80 287.24 L151.21 286.50 L151.62 285.76 L152.03 285.02 L152.44 284.28 L152.85 283.54 L153.26 282.80 L153.67 282.06 L154.08 281.32 L154.49 280.58 L154.90 279.84 L155.31 279.10 L155.72 278.36 L156.13 277.62 L156.54 276.88 L156.96 276.14 L157.37 275.40 L157.78 274.66 L158.19 273.92 L158.60 273.18 L159.02 272.45 L159.43 271.71 L159.84 270.97 L160.26 270.23 L160.67 269.49 L161.09 268.75 L161.50 268.02 L161.92 267.28 L162.33 266.54 L162.75 265.81 L163.17 265.07 L163.59 264.33 L164.00 263.60 L164.42 262.86 L164.84 262.13 L165.26 261.39 L165.68 260.66 L166.10 259.93 L166.53 259.19 L166.95 258.46 L167.37 257.73 L167.79 256.99 L168.22 256.26 L168.65 255.53 L169.07 254.80 L169.50 254.07 L169.93 253.34 L170.35 252.61 L170.78 251.88 L171.21 251.15 L171.64 250.42 L172.08 249.69 L172.51 248.97 L172.94 248.24 L173.38 247.51 L173.81 246.79 L174.25 246.06 L174.69 245.34 L175.13 244.62 L175.57 243.89 L176.01 243.17 L176.45 242.45 L176.89 241.73 L177.33 241.01 L177.78 240.29 L178.22 239.57 L178.67 238.85 L179.12 238.13 L179.57 237.41 L180.02 236.70 L180.47 235.98 L180.92 235.27 L181.38 234.55 L181.83 233.84 L182.29 233.13 L182.75 232.42 L183.21 231.71 L183.67 231.00 L184.13 230.29 L184.59 229.58 L185.06 228.87 L185.52 228.16 L185.99 227.46 L186.46 226.75 L186.93 226.05 L187.40 225.35 L187.88 224.65 L188.35 223.95 L188.83 223.25 L189.30 222.55 L189.78 221.85 L190.26 221.15 L190.75 220.46 L191.23 219.76 L191.72 219.07 L192.20 218.38 L192.69 217.69 L193.18 217.00 L193.67 216.31 L194.17 215.62 L194.66 214.94 L195.16 214.25 L195.66 213.57 L196.16 212.89 L196.66 212.21 L197.17 211.53 L197.67 210.85 L198.18 210.17 L198.69 209.50 L199.20 208.82 L199.71 208.15 L200.23 207.48 L200.75 206.81 L201.27 206.14 L201.79 205.47 L202.31 204.81 L202.83 204.14 L203.36 203.48 L203.89 202.82 L204.42 202.16 L204.95 201.50 L205.49 200.85 L206.02 200.19 L206.56 199.54 L207.10 198.89 L207.65 198.24 L208.19 197.59 L208.74 196.95 L209.29 196.30 L209.84 195.66 L210.39 195.02 L210.95 194.38 L211.50 193.74 L212.06 193.11 L212.63 192.48 L213.19 191.84 L213.75 191.22 L214.32 190.59 L214.89 189.96 L215.47 189.34 L216.04 188.72 L216.62 188.10 L217.20 187.48 L217.78 186.87 L218.36 186.25 L218.95 185.64 L219.53 185.03 L220.12 184.43 L220.72 183.82 L221.31 183.22 L221.91 182.62 L222.51 182.02 L223.11 181.43 L223.71 180.83 L224.31 180.24 L224.92 179.65 L225.53 179.07 L226.14 178.48 L226.76 177.90 L227.37 177.32 L227.99 176.74 L228.61 176.16 L229.23 175.59 L229.86 175.02 L230.49 174.45 L231.11 173.88 L231.74 173.32 L232.38 172.76 L233.01 172.20 L233.65 171.64 L234.29 171.09 L234.93 170.54 L235.57 169.99 L236.22 169.44 L236.87 168.89 L237.52 168.35 L238.17 167.81 L238.82 167.27 L239.48 166.74 L240.13 166.20 L240.79 165.67 L241.45 165.15 L242.10 164.62 L242.75 164.10 L243.41 163.58 L244.06 163.06 L244.72 162.54 L245.38 162.03 L246.05 161.51 L246.71 161.00 L247.38 160.50 L248.05 159.99 L248.72 159.49 L249.39 158.99 L250.06 158.49 L250.74 158.00 L251.41 157.51 L252.09 157.01 L252.77 156.53 L253.45 156.04 L254.13 155.56 L254.82 155.07 L255.50 154.60 L256.19 154.12 L256.88 153.64 L257.57 153.17 L258.26 152.70 L258.95 152.23 L259.65 151.77 L260.34 151.30 L261.04 150.84 L261.74 150.38 L262.44 149.92 L263.14 149.47 L263.84 149.01 L264.55 148.56 L265.25 148.11 L265.96 147.67 L266.67 147.22 L267.38 146.78 L268.09 146.33 L268.80 145.90 L269.51 145.46 L270.22 145.02 L270.94 144.59 L271.65 144.16 L272.37 143.73 L273.09 143.30 L273.80 142.87 L274.52 142.45 L275.24 142.02 L275.97 141.60 L276.69 141.18 L277.41 140.76 L278.14 140.35 L278.86 139.93 L279.59 139.52 L280.32 139.11 L281.04 138.70 L281.77 138.29 L282.50 137.88 L283.23 137.48 L283.96 137.07 L284.70 136.67 L285.43 136.27 L286.16 135.87 L286.90 135.47 L287.63 135.08 L288.37 134.68 L289.11 134.29 L289.84 133.90 L290.58 133.50 L291.32 133.12 L292.06 132.73 L292.80 132.34 L293.54 131.95 L294.28 131.57 L295.02 131.18 L295.76 130.80 L296.51 130.42 L297.25 130.04 L297.99 129.66 L298.74 129.28 L299.48 128.91 L300.23 128.53 L300.99 128.16 L301.75 127.78 L302.51 127.41 L303.27 127.04 L304.03 126.66 L304.79 126.29 L305.55 125.93 L306.31 125.56 L307.08 125.19 L307.84 124.82 L308.60 124.46 L309.37 124.09 L310.13 123.73 L310.89 123.36 L311.66 123.00 L312.42 122.64 L313.19 122.28 L313.95 121.92 L314.72 121.56 L315.49 121.20 L316.25 120.84 L317.02 120.48 L317.79 120.12 L318.55 119.77 L319.32 119.41 L320.09 119.05 L320.86 118.70 L321.63 118.35 L322.39 117.99 L323.16 117.64 L323.93 117.28 L324.70 116.93 L325.47 116.58 L326.24 116.23 L327.01 115.88 L327.78 115.53 L328.55 115.18 L329.32 114.83 L330.09 114.48 L330.86 114.13 L331.64 113.78 L332.41 113.43 L333.18 113.09 L333.95 112.74 L334.72 112.39 L335.49 112.05 L336.27 111.70 L337.04 111.35 L337.81 111.01 L338.58 110.66 L339.36 110.32 L340.13 109.97 L340.90 109.63 L341.67 109.28 L342.45 108.94 L343.22 108.59 L343.99 108.25 L344.77 107.91 L345.54 107.56 L346.32 107.22 L347.09 106.88 L347.86 106.54 L348.64 106.19 L349.41 105.85 L350.18 105.51 L350.96 105.15 L351.73 104.80 L352.51 104.45 L353.28 104.10 L354.06 103.75 L354.83 103.40 L355.60 103.05 L356.38 102.70 L357.15 102.35 L357.93 102.00 L358.70 101.65 L359.48 101.30 L360.25 100.96 L361.03 100.61 L361.80 100.26 L362.58 99.92 L363.35 99.57 L364.13 99.23 L364.90 98.88 L365.68 98.54 L366.45 98.19 L367.23 97.85 L368.00 97.50 L368.78 97.16 L369.55 96.81 L370.32 96.47 L371.10 96.13 L371.87 95.78 L372.65 95.44 L373.42 95.10 L374.20 94.75 L374.97 94.41 L375.75 94.07 L376.52 93.72 L377.30 93.38 L378.07 93.04 L378.85 92.70 L379.62 92.35 L380.39 92.01 L381.17 91.67 L381.94 91.32 L382.72 90.98 L383.49 90.64 L384.26 90.29 L385.04 89.95 L385.81 89.60 L386.58 89.26 L387.36 88.91 L388.13 88.57 L388.91 88.23 L389.68 87.88 L390.45 87.54 L391.23 87.20 L392.00 86.85 L393.55 86.18 L395.09 85.51 L396.64 84.83 L398.18 84.16 L399.73 83.48 L401.28 82.81 L402.82 82.13 L404.37 81.46 L405.92 80.79 L407.46 80.12 L409.01 79.44 L410.55 78.77 L412.10 78.10 L413.65 77.43 L415.19 76.76 L416.74 76.09 L418.29 75.42 L419.83 74.76 L421.38 74.09 L422.92 73.42 L424.47 72.76 L426.02 72.09 L427.56 71.43 L429.11 70.76 L430.66 70.10 L432.20 69.43 L433.75 68.77 L435.29 68.11 L436.84 67.45 L438.39 66.79 L439.93 66.14 L441.48 65.48 L443.03 64.83 L444.57 64.18 L446.12 63.53 L447.66 62.90 L449.21 62.28 L450.76 61.66 L452.30 61.03 L453.85 60.41 L455.39 59.78 L456.94 59.13 L458.49 58.47 L460.03 57.78 L461.58 57.08 L463.13 56.36 L464.67 55.62 L466.22 54.86 L467.76 54.10 L469.31 53.32 L470.86 52.53 L472.40 51.73 L473.95 50.90 L475.50 50.05 L477.04 49.18 L478.59 48.32 L480.13 47.46 L481.68 46.63 L483.23 45.83 L484.77 45.07 L486.32 44.33 L487.87 43.60 L489.41 42.88 L490.96 42.16 L492.50 41.42 L494.05 40.67 L495.60 39.90 L497.14 39.12 L498.69 38.32 L500.24 37.52 L501.78 36.72 L503.33 35.90 L504.87 35.09 L506.42 34.27 L507.97 33.43 L509.51 32.58 L511.06 31.73 L512.61 30.87 L514.15 30.03 L515.70 29.22 L517.24 28.43 L518.79 27.66 L520.34 26.91 L521.88 26.16 L523.43 25.43 L524.97 24.73 L526.52 24.05 L528.07 23.40 L529.61 22.78 L531.16 22.19 L532.71 21.62 L534.25 21.08 L535.80 20.55 L537.34 20.02 L538.89 19.51 L540.44 18.99 L541.98 18.47 L543.53 17.95 L545.08 17.44 L546.62 16.93 L548.17 16.43 L549.71 15.94 L551.26 15.45 L552.81 14.97 L554.35 14.48 L555.90 14.00 L557.45 13.52 L558.99 13.04 L560.54 12.57 L562.08 12.13 L563.63 11.70 L565.18 11.31 L566.72 10.93 L568.27 10.57 L569.82 10.22 L571.36 9.89 L572.91 9.58 L574.45 9.28 L576.00 9.00" stroke="#a6a600" stroke-width="4" stroke-dasharray="10 3"/>
<path d="M402.59 299.41 L402.66 298.65 L402.73 297.89 L402.80 297.13 L402.87 296.38 L402.94 295.62 L403.00 294.86 L403.07 294.10 L403.14 293.35 L403.21 292.59 L403.28 291.83 L403.35 291.08 L403.42 290.32 L403.49 289.56 L403.56 288.80 L403.63 288.05 L403.70 287.29 L403.78 286.53 L403.85 285.77 L403.92 285.02 L403.99 284.26 L404.06 283.50 L404.13 282.75 L404.21 281.99 L404.28 281.23 L404.35 280.47 L404.42 279.72 L404.50 278.96 L404.57 278.20 L404.64 277.45 L404.72 276.69 L404.79 275.93 L404.87 275.17 L404.94 274.42 L405.01 273.66 L405.09 272.90 L405.16 272.15 L405.24 271.39 L405.32 270.63 L405.39 269.88 L405.47 269.12 L405.54 268.36 L405.62 267.61 L405.69 266.85 L405.77 266.09 L405.85 265.34 L405.93 264.58 L406.00 263.82 L406.08 263.07 L406.16 262.31 L406.24 261.55 L406.31 260.80 L406.39 260.04 L406.47 259.28 L406.55 258.53 L406.63 257.77 L406.71 257.01 L406.79 256.26 L406.87 255.50 L406.95 254.74 L407.03 253.99 L407.11 253.23 L407.19 252.48 L407.27 251.72 L407.35 250.96 L407.43 250.21 L407.52 249.45 L407.60 248.69 L407.68 247.94 L407.76 247.18 L407.85 246.43 L407.93 245.67 L408.01 244.91 L408.10 244.16 L408.18 243.40 L408.26 242.65 L408.35 241.89 L408.43 241.14 L408.52 240.38 L408.60 239.62 L408.69 238.87 L408.78 238.11 L408.86 237.36 L408.95 236.60 L409.03 235.84 L409.12 235.09 L409.21 234.33 L409.30 233.58 L409.38 232.82 L409.47 232.07 L409.56 231.31 L409.65 230.56 L409.74 229.80 L409.83 229.05 L409.92 228.29 L410.01 227.54 L410.10 226.78 L410.19 226.02 L410.28 225.27 L410.37 224.51 L410.46 223.76 L410.55 223.00 L410.64 222.25 L410.74 221.49 L410.83 220.74 L410.92 219.98 L411.01 219.23 L411.11 218.47 L411.20 217.72 L411.30 216.97 L411.39 216.21 L411.49 215.46 L411.58 214.70 L411.68 213.95 L411.77 213.19 L411.87 212.44 L411.97 211.68 L412.06 210.93 L412.16 210.17 L412.26 209.42 L412.36 208.67 L412.45 207.91 L412.55 207.16 L412.65 206.40 L412.75 205.65 L412.85 204.90 L412.95 204.14 L413.05 203.39 L413.15 202.63 L413.26 201.88 L413.36 201.13 L413.46 200.37 L413.56 199.62 L413.66 198.87 L413.77 198.11 L413.87 197.36 L413.98 196.61 L414.08 195.85 L414.19 195.10 L414.29 194.35 L414.40 193.59 L414.50 192.84 L414.61 192.09 L414.72 191.33 L414.82 190.58 L414.93 189.83 L415.04 189.07 L415.15 188.32 L415.26 187.57 L415.37 186.82 L415.48 186.06 L415.59 185.31 L415.70 184.56 L415.81 183.81 L415.92 183.05 L416.04 182.30 L416.15 181.55 L416.26 180.80 L416.38 180.05 L416.49 179.29 L416.60 178.54 L416.72 177.79 L416.84 177.04 L416.95 176.29 L417.07 175.53 L417.19 174.78 L417.30 174.03 L417.42 173.28 L417.54 172.53 L417.66 171.78 L417.78 171.03 L417.90 170.28 L418.02 169.52 L418.14 168.77 L418.26 168.02 L418.39 167.27 L418.51 166.52 L418.63 165.77 L418.76 165.02 L418.88 164.27 L419.01 163.52 L419.13 162.77 L419.26 162.02 L419.39 161.27 L419.52 160.52 L419.64 159.77 L419.77 159.02 L419.90 158.27 L420.03 157.52 L420.16 156.77 L420.30 156.02 L420.43 155.28 L420.56 154.53 L420.69 153.78 L420.83 153.03 L420.96 152.28 L421.10 151.53 L421.23 150.78 L421.37 150.04 L421.51 149.29 L421.65 148.54 L421.78 147.79 L421.92 147.04 L422.06 146.30 L422.21 145.55 L422.35 144.80 L422.49 144.05 L422.63 143.31 L422.78 142.56 L422.92 141.81 L423.07 141.07 L423.21 140.32 L423.36 139.57 L423.51 138.83 L423.66 138.08 L423.80 137.34 L423.95 136.59 L424.11 135.85 L424.26 135.10 L424.41 134.36 L424.56 133.61 L424.72 132.87 L424.87 132.12 L425.03 131.38 L425.19 130.63 L425.34 129.89 L425.50 129.14 L425.66 128.40 L425.82 127.66 L425.98 126.91 L426.15 126.17 L426.31 125.43 L426.47 124.69 L426.64 123.94 L426.81 123.20 L426.97 122.46 L427.14 121.72 L427.31 120.98 L427.48 120.23 L427.65 119.49 L427.82 118.75 L428.00 118.01 L428.17 117.27 L428.35 116.53 L428.53 115.79 L428.70 115.05 L428.88 114.31 L429.06 113.57 L429.24 112.84 L429.43 112.10 L429.61 111.36 L429.79 110.62 L429.98 109.88 L430.17 109.15 L430.36 108.41 L430.55 107.67 L430.74 106.94 L430.93 106.20 L431.12 105.47 L431.32 104.73 L431.51 104.00 L431.71 103.26 L431.91 102.53 L432.11 101.79 L432.31 101.06 L432.52 100.33 L432.72 99.59 L432.93 98.86 L433.13 98.13 L433.34 97.40 L433.55 96.67 L433.77 95.94 L433.98 95.21 L434.19 94.48 L434.41 93.75 L434.63 93.02 L434.85 92.29 L435.07 91.57 L435.30 90.84 L435.53 90.12 L435.77 89.39 L436.00 88.67 L436.24 87.95 L436.48 87.22 L436.72 86.50 L436.96 85.78 L437.20 85.06 L437.45 84.34 L437.70 83.62 L437.95 82.90 L438.20 82.19 L438.46 81.47 L438.71 80.75 L438.97 80.04 L439.23 79.33 L439.50 78.61 L439.77 77.90 L440.03 77.19 L440.31 76.48 L440.58 75.77 L440.86 75.06 L441.13 74.35 L441.42 73.65 L441.70 72.94 L441.99 72.24 L442.28 71.53 L442.57 70.83 L442.86 70.13 L443.16 69.43 L443.46 68.73 L443.77 68.03 L444.07 67.34 L444.38 66.64 L444.70 65.95 L445.01 65.26 L445.33 64.57 L445.65 63.88 L445.98 63.19 L446.31 62.50 L446.64 61.82 L446.98 61.14 L447.32 60.46 L447.66 59.78 L448.00 59.10 L448.35 58.43 L448.71 57.75 L449.07 57.08 L449.43 56.41 L449.79 55.75 L450.16 55.08 L450.54 54.42 L450.91 53.76 L451.29 53.10 L451.68 52.44 L452.07 51.79 L452.46 51.14 L452.86 50.49 L453.27 49.85 L453.67 49.21 L454.09 48.57 L454.50 47.93 L454.92 47.30 L455.34 46.66 L455.75 46.02 L456.17 45.38 L456.59 44.75 L457.02 44.12 L457.45 43.50 L457.89 42.87 L458.33 42.25 L458.77 41.64 L459.22 41.03 L459.68 40.42 L460.14 39.81 L460.60 39.21 L461.07 38.61 L461.55 38.02 L462.03 37.42 L462.51 36.84 L463.00 36.26 L463.50 35.68 L464.00 35.10 L464.50 34.54 L465.01 33.97 L465.52 33.41 L466.04 32.85 L466.57 32.30 L467.10 31.76 L467.63 31.22 L468.17 30.68 L468.72 30.15 L469.27 29.63 L469.82 29.11 L470.38 28.59 L470.95 28.08 L471.52 27.58 L472.09 27.08 L472.67 26.59 L473.26 26.10 L473.85 25.62 L474.44 25.15 L475.04 24.68 L475.65 24.22 L476.25 23.76 L476.87 23.31 L477.48 22.87 L478.11 22.43 L478.73 22.00 L479.36 21.57 L480.00 21.15 L480.62 20.72 L481.25 20.30 L481.89 19.88 L482.53 19.46 L483.17 19.05 L483.81 18.65 L484.46 18.25 L485.11 17.86 L485.77 17.48 L486.43 17.10 L487.09 16.72 L487.76 16.35 L488.43 15.99 L489.10 15.64 L489.77 15.29 L490.45 14.94 L491.13 14.60 L491.81 14.27 L492.50 13.94 L493.19 13.61 L493.88 13.30 L494.57 12.98 L495.27 12.67 L495.97 12.37 L496.67 12.08 L497.37 11.78 L498.07 11.50 L498.78 11.21 L499.49 10.94 L500.20 10.66 L500.91 10.40 L501.62 10.13 L502.34 9.87 L503.05 9.62 L503.77 9.37 L504.49 9.12 L505.22 8.89 L505.95 8.68 L506.68 8.47 L507.41 8.27 L508.14 8.07 L508.88 7.87 L509.62 7.68 L510.35 7.50 L511.09 7.31 L511.83 7.13 L512.57 6.96 L513.31 6.78 L514.05 6.62 L514.80 6.45 L515.54 6.29 L516.28 6.13 L517.03 5.97 L517.77 5.82 L518.52 5.67 L519.26 5.53 L520.01 5.38 L520.76 5.24 L521.51 5.11 L522.26 4.97 L523.01 4.84 L523.75 4.71 L524.50 4.58 L525.25 4.46 L526.01 4.34 L526.76 4.22 L527.51 4.10 L528.26 3.99 L529.01 3.88 L529.77 3.77 L530.52 3.66 L531.27 3.55 L532.02 3.45 L532.78 3.35 L533.53 3.25 L534.29 3.15 L535.04 3.05 L535.80 2.96 L536.55 2.87 L537.31 2.78 L538.06 2.69 L538.82 2.60 L539.57 2.52 L540.33 2.43 L541.08 2.33 L541.84 2.24 L542.59 2.14 L543.35 2.05 L544.10 1.96 L544.86 1.87 L545.61 1.78 L546.37 1.70 L547.13 1.61 L547.88 1.53 L548.64 1.45 L549.39 1.36 L550.15 1.28 L550.91 1.21 L551.66 1.13 L552.42 1.05 L553.18 0.98 L553.93 0.90 L554.69 0.83 L555.45 0.76 L556.21 0.69 L556.96 0.64 L557.72 0.59 L558.48 0.54 L559.24 0.49 L560.00 0.44" stroke="#808080" stroke-width="4" stroke-dasharray="10 3"/>
<line x1="471.5" x2="471.5" y1="0" y2="297" stroke="#ff00ff" stroke-width="2.2"/>
<line x1="419.5" x2="419.5" y1="0" y2="297" stroke="#0000ff" stroke-width="2.2"/>
<line x1="393.3" x2="393.3" y1="0" y2="297" stroke="#800080" stroke-width="2.2"/>
</g>
<path d="M97.5 0.70h2.2M97.5 10.60h2.2M97.5 20.50h2.2M97.5 30.40h2.2M97.5 40.30h4.5M97.5 50.20h2.2M97.5 60.10h2.2M97.5 70.00h2.2M97.5 79.90h2.2M97.5 89.80h4.5M97.5 99.70h2.2M97.5 109.60h2.2M97.5 119.50h2.2M97.5 129.40h2.2M97.5 139.30h4.5M97.5 149.20h2.2M97.5 159.10h2.2M97.5 169.00h2.2M97.5 178.90h2.2M97.5 188.80h4.5M97.5 198.70h2.2M97.5 208.60h2.2M97.5 218.50h2.2M97.5 228.40h2.2M97.5 238.30h4.5M97.5 248.20h2.2M97.5 258.10h2.2M97.5 268.00h2.2M97.5 277.90h2.2M97.5 287.80h4.5" stroke="#777" stroke-width="0.7" fill="none"/>
<path d="M216.70 297.0v-5.8M336.20 297.0v-5.8M455.70 297.0v-5.8M575.1 297v-5.8" stroke="#222" stroke-width="1" fill="none"/>
<rect x="442" y="150.4" width="133.7" height="138.1" fill="#fff" fill-opacity="0.76"/>
<path d="M96.6 0.5H577.1" stroke="#000" stroke-width="1.2" fill="none"/>
<path d="M97.3 0.5V297.5" stroke="#000" stroke-width="1.45" fill="none"/>
<path d="M96.6 297.1H577.1" stroke="#111" stroke-width="1.1" fill="none"/>
<path d="M576.5 0.5V297.6" stroke="#000" stroke-width="1.2" fill="none"/>
<line x1="458.1" x2="476.5" y1="177.3" y2="177.3" stroke="#00ff00" stroke-width="3.1" stroke-dasharray="4.7 2.1"/>
<text x="487.2" y="184.2" font-family="Liberation Sans, Arial, Helvetica, sans-serif" font-size="19.2" fill="#000">non sph.</text>
<line x1="458.1" x2="476.5" y1="206.2" y2="206.2" stroke="#ff8000" stroke-width="3.1" stroke-dasharray="4.7 2.1"/>
<text x="487.2" y="213.1" font-family="Liberation Sans, Arial, Helvetica, sans-serif" font-size="19.2" fill="#000">1st spin</text>
<line x1="458.1" x2="476.5" y1="235.0" y2="235.0" stroke="#a6a600" stroke-width="3.1" stroke-dasharray="4.7 2.1"/>
<text x="487.2" y="241.9" font-family="Liberation Sans, Arial, Helvetica, sans-serif" font-size="19.2" fill="#000">2nd spin</text>
<line x1="458.1" x2="476.5" y1="264.5" y2="264.5" stroke="#808080" stroke-width="3.1" stroke-dasharray="4.7 2.1"/>
<text x="487.2" y="271.4" font-family="Liberation Sans, Arial, Helvetica, sans-serif" font-size="19.2" fill="#000">RD</text>
<text transform="translate(47.90,49.00) scale(0.900,1)" font-family="DejaVu Sans Condensed, DejaVu Sans, Liberation Sans, sans-serif" font-size="22.9" fill="#000">1</text>
<text transform="translate(58.20,49.00) scale(1.120,1)" font-family="DejaVu Sans Condensed, DejaVu Sans, Liberation Sans, sans-serif" font-size="22.9" fill="#000">0</text>
<text transform="translate(72.30,39.60) scale(0.930,1)" font-family="DejaVu Sans Condensed, DejaVu Sans, Liberation Sans, sans-serif" font-size="15.3" fill="#000">−4</text>
<text transform="translate(47.90,98.50) scale(0.900,1)" font-family="DejaVu Sans Condensed, DejaVu Sans, Liberation Sans, sans-serif" font-size="22.9" fill="#000">1</text>
<text transform="translate(58.20,98.50) scale(1.120,1)" font-family="DejaVu Sans Condensed, DejaVu Sans, Liberation Sans, sans-serif" font-size="22.9" fill="#000">0</text>
<text transform="translate(72.30,89.10) scale(0.930,1)" font-family="DejaVu Sans Condensed, DejaVu Sans, Liberation Sans, sans-serif" font-size="15.3" fill="#000">−9</text>
<text transform="translate(39.80,148.00) scale(0.900,1)" font-family="DejaVu Sans Condensed, DejaVu Sans, Liberation Sans, sans-serif" font-size="22.9" fill="#000">1</text>
<text transform="translate(50.10,148.00) scale(1.120,1)" font-family="DejaVu Sans Condensed, DejaVu Sans, Liberation Sans, sans-serif" font-size="22.9" fill="#000">0</text>
<text transform="translate(64.20,138.60) scale(0.930,1)" font-family="DejaVu Sans Condensed, DejaVu Sans, Liberation Sans, sans-serif" font-size="15.3" fill="#000">−14</text>
<text transform="translate(39.80,197.50) scale(0.900,1)" font-family="DejaVu Sans Condensed, DejaVu Sans, Liberation Sans, sans-serif" font-size="22.9" fill="#000">1</text>
<text transform="translate(50.10,197.50) scale(1.120,1)" font-family="DejaVu Sans Condensed, DejaVu Sans, Liberation Sans, sans-serif" font-size="22.9" fill="#000">0</text>
<text transform="translate(64.20,188.10) scale(0.930,1)" font-family="DejaVu Sans Condensed, DejaVu Sans, Liberation Sans, sans-serif" font-size="15.3" fill="#000">−19</text>
<text transform="translate(39.80,247.00) scale(0.900,1)" font-family="DejaVu Sans Condensed, DejaVu Sans, Liberation Sans, sans-serif" font-size="22.9" fill="#000">1</text>
<text transform="translate(50.10,247.00) scale(1.120,1)" font-family="DejaVu Sans Condensed, DejaVu Sans, Liberation Sans, sans-serif" font-size="22.9" fill="#000">0</text>
<text transform="translate(64.20,237.60) scale(0.930,1)" font-family="DejaVu Sans Condensed, DejaVu Sans, Liberation Sans, sans-serif" font-size="15.3" fill="#000">−24</text>
<text transform="translate(39.80,296.50) scale(0.900,1)" font-family="DejaVu Sans Condensed, DejaVu Sans, Liberation Sans, sans-serif" font-size="22.9" fill="#000">1</text>
<text transform="translate(50.10,296.50) scale(1.120,1)" font-family="DejaVu Sans Condensed, DejaVu Sans, Liberation Sans, sans-serif" font-size="22.9" fill="#000">0</text>
<text transform="translate(64.20,287.10) scale(0.930,1)" font-family="DejaVu Sans Condensed, DejaVu Sans, Liberation Sans, sans-serif" font-size="15.3" fill="#000">−29</text>
<text transform="translate(75.70,325.50) scale(0.900,1)" font-family="DejaVu Sans Condensed, DejaVu Sans, Liberation Sans, sans-serif" font-size="22.9" fill="#000">1</text>
<text transform="translate(86.00,325.50) scale(1.120,1)" font-family="DejaVu Sans Condensed, DejaVu Sans, Liberation Sans, sans-serif" font-size="22.9" fill="#000">0</text>
<text transform="translate(100.00,316.10) scale(0.930,1)" font-family="DejaVu Sans Condensed, DejaVu Sans, Liberation Sans, sans-serif" font-size="15.3" fill="#000">−4</text>
<text transform="translate(195.20,325.50) scale(0.900,1)" font-family="DejaVu Sans Condensed, DejaVu Sans, Liberation Sans, sans-serif" font-size="22.9" fill="#000">1</text>
<text transform="translate(205.50,325.50) scale(1.120,1)" font-family="DejaVu Sans Condensed, DejaVu Sans, Liberation Sans, sans-serif" font-size="22.9" fill="#000">0</text>
<text transform="translate(219.50,316.10) scale(0.930,1)" font-family="DejaVu Sans Condensed, DejaVu Sans, Liberation Sans, sans-serif" font-size="15.3" fill="#000">−3</text>
<text transform="translate(314.70,325.50) scale(0.900,1)" font-family="DejaVu Sans Condensed, DejaVu Sans, Liberation Sans, sans-serif" font-size="22.9" fill="#000">1</text>
<text transform="translate(325.00,325.50) scale(1.120,1)" font-family="DejaVu Sans Condensed, DejaVu Sans, Liberation Sans, sans-serif" font-size="22.9" fill="#000">0</text>
<text transform="translate(339.00,316.10) scale(0.930,1)" font-family="DejaVu Sans Condensed, DejaVu Sans, Liberation Sans, sans-serif" font-size="15.3" fill="#000">−2</text>
<text transform="translate(434.20,325.50) scale(0.900,1)" font-family="DejaVu Sans Condensed, DejaVu Sans, Liberation Sans, sans-serif" font-size="22.9" fill="#000">1</text>
<text transform="translate(444.50,325.50) scale(1.120,1)" font-family="DejaVu Sans Condensed, DejaVu Sans, Liberation Sans, sans-serif" font-size="22.9" fill="#000">0</text>
<text transform="translate(458.50,316.10) scale(0.930,1)" font-family="DejaVu Sans Condensed, DejaVu Sans, Liberation Sans, sans-serif" font-size="15.3" fill="#000">−1</text>
<text transform="translate(568.40,325.30) scale(0.930,1)" font-family="DejaVu Sans Condensed, DejaVu Sans, Liberation Sans, sans-serif" font-size="22.9" fill="#000">1</text>
<text x="327" y="360.2" font-family="Liberation Serif, Times New Roman, serif" font-size="22" font-style="italic" fill="#222">σ<tspan dy="3.9" dx="0.6" font-size="16.8" font-style="normal">0</tspan></text>
<text transform="translate(20.0,158.6) rotate(-90)" font-family="Liberation Serif, Times New Roman, serif" font-size="22" font-style="italic" fill="#222">β<tspan dy="3.6" dx="0.3" font-size="16.8" font-style="normal">0</tspan></text>
<line x1="129" x2="145.6" y1="25.4" y2="25.4" stroke="#800080" stroke-width="2.6"/>
<g font-family="Liberation Serif, Times New Roman, serif" font-size="20" fill="#1a1a1a"><text x="155.3" y="33.5" font-style="italic" font-size="21" textLength="11.4" lengthAdjust="spacingAndGlyphs">μ</text><text x="171.9" y="33.5" textLength="15" lengthAdjust="spacingAndGlyphs">=</text><text x="190.9" y="33.5" font-size="18.8">1</text><text x="201.2" y="35.7" textLength="9.3" lengthAdjust="spacingAndGlyphs">/</text><text x="210.8" y="33.5" font-size="18.8">2</text><text x="220.3" y="33.5">,</text><text x="238.4" y="33.5" textLength="22.2" lengthAdjust="spacingAndGlyphs">ln(</text><text x="260.1" y="33.5" font-style="italic" font-size="20.5" textLength="9.6" lengthAdjust="spacingAndGlyphs">k</text><text x="270.3" y="36.5" font-size="13.4" textLength="23" lengthAdjust="spacingAndGlyphs">min</text><text x="294.6" y="35.7" textLength="8.4" lengthAdjust="spacingAndGlyphs">/</text><text x="304.2" y="33.5" font-style="italic" font-size="20.5" textLength="9.4" lengthAdjust="spacingAndGlyphs">k</text><text x="305.6" y="30.1" font-size="20">˜</text><text x="313.9" y="33.5">)</text><text x="327.4" y="33.5" textLength="15" lengthAdjust="spacingAndGlyphs">=</text><text x="346.3" y="33.5" font-size="18.8">1</text></g>
<line x1="129" x2="145.6" y1="60.9" y2="60.9" stroke="#0000ff" stroke-width="2.6"/>
<g font-family="Liberation Serif, Times New Roman, serif" font-size="20" fill="#1a1a1a"><text x="155.3" y="69.0" font-style="italic" font-size="21" textLength="11.4" lengthAdjust="spacingAndGlyphs">μ</text><text x="171.9" y="69.0" textLength="15" lengthAdjust="spacingAndGlyphs">=</text><text x="208.7" y="69.0" font-size="18.8">1</text><text x="220.3" y="69.0">,</text><text x="238.4" y="69.0" textLength="22.2" lengthAdjust="spacingAndGlyphs">ln(</text><text x="260.1" y="69.0" font-style="italic" font-size="20.5" textLength="9.6" lengthAdjust="spacingAndGlyphs">k</text><text x="270.3" y="72.0" font-size="13.4" textLength="23" lengthAdjust="spacingAndGlyphs">min</text><text x="294.6" y="71.2" textLength="8.4" lengthAdjust="spacingAndGlyphs">/</text><text x="304.2" y="69.0" font-style="italic" font-size="20.5" textLength="9.4" lengthAdjust="spacingAndGlyphs">k</text><text x="305.6" y="65.6" font-size="20">˜</text><text x="313.9" y="69.0">)</text><text x="327.4" y="69.0" textLength="15" lengthAdjust="spacingAndGlyphs">=</text><text x="346.3" y="69.0" font-size="18.8">1</text></g>
<line x1="129" x2="145.6" y1="96.4" y2="96.4" stroke="#ff00ff" stroke-width="2.6"/>
<g font-family="Liberation Serif, Times New Roman, serif" font-size="20" fill="#1a1a1a"><text x="155.3" y="104.5" font-style="italic" font-size="21" textLength="11.4" lengthAdjust="spacingAndGlyphs">μ</text><text x="171.9" y="104.5" textLength="15" lengthAdjust="spacingAndGlyphs">=</text><text x="210.8" y="104.5" font-size="18.8">2</text><text x="220.3" y="104.5">,</text><text x="238.4" y="104.5" textLength="22.2" lengthAdjust="spacingAndGlyphs">ln(</text><text x="260.1" y="104.5" font-style="italic" font-size="20.5" textLength="9.6" lengthAdjust="spacingAndGlyphs">k</text><text x="270.3" y="107.5" font-size="13.4" textLength="23" lengthAdjust="spacingAndGlyphs">min</text><text x="294.6" y="106.7" textLength="8.4" lengthAdjust="spacingAndGlyphs">/</text><text x="304.2" y="104.5" font-style="italic" font-size="20.5" textLength="9.4" lengthAdjust="spacingAndGlyphs">k</text><text x="305.6" y="101.1" font-size="20">˜</text><text x="313.9" y="104.5">)</text><text x="327.4" y="104.5" textLength="15" lengthAdjust="spacingAndGlyphs">=</text><text x="346.3" y="104.5" font-size="18.8">1</text></g>
</g>
</svg>
</body></html>
